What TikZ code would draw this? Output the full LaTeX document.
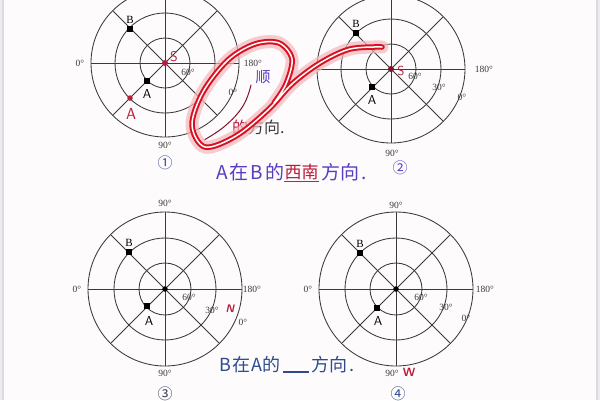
\documentclass[tikz,border=0pt]{standalone}
\usepackage{fontspec}
\setmainfont{Liberation Serif}
\newfontfamily\cjk{Noto Sans CJK SC}
\usetikzlibrary{calc}
\definecolor{bg}{HTML}{FDFBFC}
\definecolor{gridc}{HTML}{3A3A3A}
\definecolor{hpurple}{HTML}{5A3CC0}
\definecolor{hred}{HTML}{B81C3A}
\definecolor{hblue}{HTML}{2E4C8C}
\definecolor{loopred}{HTML}{D81020}
\definecolor{framec}{HTML}{DEDAE2}
\newcommand\polargrid[4]{%
  \draw[gridline] (#1) circle[radius=#2pt];
  \draw[gridline] (#1) circle[radius=#3pt];
  \draw[gridline] (#1) circle[radius=#4pt];
  \foreach \a in {0,45,90,135}
    \draw[gridline] ($(#1)+(\a:#4pt)$) -- ($(#1)+(\a+180:#4pt)$);
}
\begin{document}
\begin{tikzpicture}[x=1pt,y=-1pt,
  gridline/.style={draw=gridc,line width=0.85pt},
  deg/.style={font=\fontsize{9.5}{10}\selectfont,text=gridc,inner sep=0pt},
  sq/.style={fill=black,rectangle,minimum size=5.5pt,inner sep=0pt},
  bdot/.style={fill=black,circle,minimum size=5.5pt,inner sep=0pt},
  rdot/.style={fill=hred,circle,minimum size=6pt,inner sep=0pt},
  blbl/.style={font=\fontsize{11}{12}\selectfont,inner sep=0pt},
  albl/.style={font=\sffamily\fontsize{13}{14}\selectfont,inner sep=0pt},
  rlbl/.style={font=\sffamily\fontsize{14}{15}\selectfont,text=hred,inner sep=0pt},
  hand/.style={font=\cjk\fontsize{19}{20}\selectfont,inner sep=0pt},
  circnum/.style={font=\cjk\fontsize{15}{16}\selectfont,inner sep=0pt},
  glow/.style={draw=loopred,line width=5.5pt,line cap=round,line join=round,
    preaction={draw=loopred!30,line width=13pt,opacity=0.7,line cap=round},
    postaction={draw=white,line width=1.5pt,line cap=round}}
]
\useasboundingbox (0,0) rectangle (600,400);
\fill[bg] (0,0) rectangle (600,400);
\clip (0,0) rectangle (600,400);
\fill[framec!50] (0,0) rectangle (3,400);
\fill[framec!50] (597,0) rectangle (600,400);
\draw[framec,line width=1.2pt] (3,0) -- (3,400);
\draw[framec,line width=1.2pt] (597,0) -- (597,400);

% centres
\coordinate (c1) at (165,63);
\coordinate (c2) at (391,69);
\coordinate (c3) at (165,289);
\coordinate (c4) at (396,289);
\polargrid{c1}{25}{50}{74}
\polargrid{c2}{25}{50}{74}
\polargrid{c3}{26}{51}{77}
\polargrid{c4}{26}{51}{77}

% ---------- diagram 1 ----------
\node[deg] (d1a) at (80,63) {0°};
\node[deg] (d1b) at (188,72) {60°};
\node[deg] (d1c) at (253,63) {180°};
\node[deg] (d1d) at (233,92) {0°};
\node[deg] (d1e) at (165,145) {90°};
\node[sq] (b1) at (130,29) {};
\node[blbl,anchor=south] (b1l) at (130,24) {B};
\node[sq] (a1) at (147,81) {};
\node[albl] (a1l) at (147,94) {A};
\node[rdot] (s1) at (c1) {};
\node[rlbl] (s1l) at (174,57) {S};
\node[rdot,minimum size=5.5pt] (ra1) at (130,98) {};
\node[rlbl,font=\sffamily\fontsize{16}{17}\selectfont] (ra1l) at (131,114) {A};
\node[circnum,text=hblue!80!hpurple] (n1) at (165,163) {①};

% ---------- diagram 2 ----------
\node[deg] (d2b) at (415,76) {60°};
\node[deg] (d2c) at (439,87) {30°};
\node[deg] (d2d) at (462,97) {0°};
\node[deg] (d2e) at (484,69) {180°};
\node[deg] (d2f) at (392,153) {90°};
\node[sq] (b2) at (356,33) {};
\node[blbl,anchor=south] (b2l) at (356,28) {B};
\node[sq] (a2) at (372,87) {};
\node[albl] (a2l) at (372,100) {A};
\node[rdot,fill=hred!70!black] (s2) at (c2) {};
\node[rlbl,font=\sffamily\fontsize{13}{14}\selectfont] (s2l) at (401,71) {S};
\node[circnum,text=hpurple] (n2) at (400,168) {②};

% ---------- diagram 3 ----------
\node[deg] (d3a) at (165,203) {90°};
\node[deg] (d3b) at (77,289) {0°};
\node[deg] (d3c) at (252,289) {180°};
\node[deg] (d3d) at (189,297) {60°};
\node[deg] (d3e) at (212,310) {30°};
\node[deg] (d3f) at (243,322) {0°};
\node[deg] (d3g) at (165,373) {90°};
\node[sq] (b3) at (129,252) {};
\node[blbl,anchor=south] (b3l) at (129,247) {B};
\node[bdot] (o3) at (c3) {};
\node[sq] (a3) at (147,306) {};
\node[albl] (a3l) at (149,321) {A};
\node[font=\sffamily\bfseries\itshape\fontsize{11}{12}\selectfont,text=hred,inner sep=0pt] (nN) at (230,309) {N};
\node[circnum,text=gridc!70!hblue] (n3) at (165,394) {③};

% ---------- diagram 4 ----------
\node[deg] (d4a) at (396,205) {90°};
\node[deg] (d4b) at (308,289) {0°};
\node[deg] (d4c) at (485,289) {180°};
\node[deg] (d4d) at (421,297) {60°};
\node[deg] (d4e) at (446,307) {30°};
\node[deg] (d4f) at (466,318) {0°};
\node[deg] (d4g) at (392,373) {90°};
\node[sq] (b4) at (360,253) {};
\node[blbl,anchor=south] (b4l) at (360,248) {B};
\node[bdot] (o4) at (c4) {};
\node[sq] (a4) at (377,308) {};
\node[albl] (a4l) at (378,321) {A};
\node[font=\sffamily\bfseries\fontsize{12}{13}\selectfont,text=hred,inner sep=0pt] (wW) at (409,372) {W};
\node[circnum,text=hblue] (n4) at (398,394) {④};

% ---------- annotations ----------
\draw[hred!70!black,line width=1pt,line cap=round] plot[smooth,tension=0.7] coordinates {(251,85) (243,106) (225,126) (204,140)};
\node[hand,text=hpurple,font=\cjk\fontsize{15}{16}\selectfont] (shun) at (263,77) {顺};
\node[hand,anchor=west,font=\cjk\fontsize{16}{17}\selectfont,text=gridc] (fx1) at (232,127) {{\color{hred}的}方向.};

\draw[glow] plot[smooth,tension=0.55] coordinates {(382,47) (350,49) (320,63) (292,84) (268,110) (236,136) (205,147) (192,125) (203,92) (228,60) (255,44) (279,43) (292,59) (286,84) (274,103)};

\node[hand,anchor=west,text=hpurple] (t1a) at (216,172) {A\hspace{2pt}在\hspace{2pt}B\hspace{2pt}的};
\node[hand,anchor=west,text=hred,font=\cjk\fontsize{17}{18}\selectfont] (t1b) at (t1a.east) {西南};
\node[hand,anchor=west,text=hpurple] (t1c) at ([xshift=2pt]t1b.east) {方向\hspace{2pt}.};
\draw[hpurple,line width=1pt] ([yshift=-1pt]t1b.south west) -- ([yshift=-1pt]t1b.south east);

\node[hand,anchor=west,text=hblue,font=\cjk\fontsize{18}{19}\selectfont] (t2a) at (219,365) {B\hspace{1pt}在\hspace{1pt}A\hspace{1pt}的};
\coordinate (u1) at ([xshift=2pt,yshift=-7pt]t2a.east);
\coordinate (u2) at ([xshift=26pt]u1);
\draw[hblue,line width=1.1pt] (u1) -- (u2);
\node[hand,anchor=west,text=hblue,font=\cjk\fontsize{18}{19}\selectfont] (t2b) at ([xshift=30pt]t2a.east) {方向\hspace{2pt}.};
\end{tikzpicture}
\end{document}
